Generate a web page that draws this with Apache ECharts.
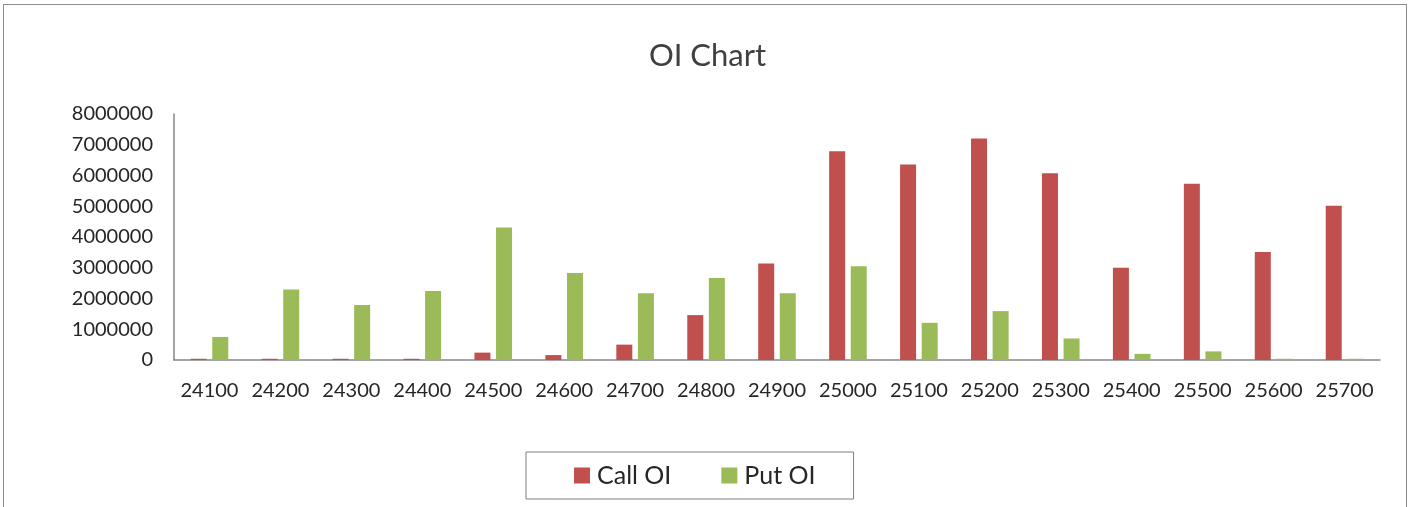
<!DOCTYPE html>
<html>
<head>
<meta charset="utf-8">
<script src="https://cdn.jsdelivr.net/npm/echarts@6/dist/echarts.min.js"></script>
<style>
html,body{margin:0;padding:0;background:#fff;}
#frame{position:absolute;left:3px;top:4px;width:1404px;height:520px;border:1px solid #8c8c8c;box-sizing:border-box;}
#chart{position:absolute;left:0;top:0;width:1415px;height:507px;}
</style>
</head>
<body>
<div id="frame"></div>
<div id="chart"></div>
<script>
const categories = ['24100','24200','24300','24400','24500','24600','24700','24800','24900','25000','25100','25200','25300','25400','25500','25600','25700'];
const callOI = [40000, 40000, 40000, 40000, 240000, 160000, 500000, 1460000, 3140000, 6790000, 6360000, 7200000, 6070000, 3000000, 5730000, 3510000, 5020000];
const putOI = [750000, 2290000, 1790000, 2240000, 4310000, 2830000, 2170000, 2670000, 2170000, 3050000, 1210000, 1590000, 700000, 200000, 280000, 40000, 40000];
const yTicks = {min: 0, max: 8000000, interval: 1000000};

const chart = echarts.init(document.getElementById('chart'), null, {renderer: 'canvas'});
const font = 'Lato, "Open Sans", "Noto Sans", sans-serif';
chart.setOption({
  animation: false,
  backgroundColor: 'transparent',
  title: {
    text: 'OI Chart', left: 'center', top: 35,
    textStyle: {fontFamily: font, fontSize: 31, fontWeight: 'normal', color: '#404040'}
  },
  legend: {
    data: ['Call OI', 'Put OI'],
    left: 526, top: 452,
    padding: [11, 38, 11, 48],
    borderColor: '#7f7f7f', borderWidth: 1,
    itemWidth: 16, itemHeight: 16, itemGap: 50,
    icon: 'rect',
    textStyle: {fontFamily: font, fontSize: 25, color: '#262626', padding: [0, 0, 0, 2]}
  },
  grid: {left: 174, right: 35, top: 114, bottom: 147, containLabel: false},
  xAxis: {
    type: 'category', data: categories,
    axisLine: {show: true, lineStyle: {color: '#868686', width: 1.5}},
    axisTick: {show: false},
    axisLabel: {margin: 21, fontFamily: font, fontSize: 20, color: '#262626', interval: 0}
  },
  yAxis: {
    type: 'value', min: yTicks.min, max: yTicks.max, interval: yTicks.interval,
    axisLine: {show: true, lineStyle: {color: '#868686', width: 1.5}},
    axisTick: {show: false},
    splitLine: {show: false},
    axisLabel: {margin: 21, fontFamily: font, fontSize: 20, color: '#262626', formatter: function (v) { return String(v); }}
  },
  series: [
    {name: 'Call OI', type: 'bar', data: callOI, barWidth: 16, barGap: '35%', itemStyle: {color: '#C0504D'}},
    {name: 'Put OI', type: 'bar', data: putOI, barWidth: 16, barGap: '35%', itemStyle: {color: '#9BBB59'}}
  ]
});
</script>
</body>
</html>
